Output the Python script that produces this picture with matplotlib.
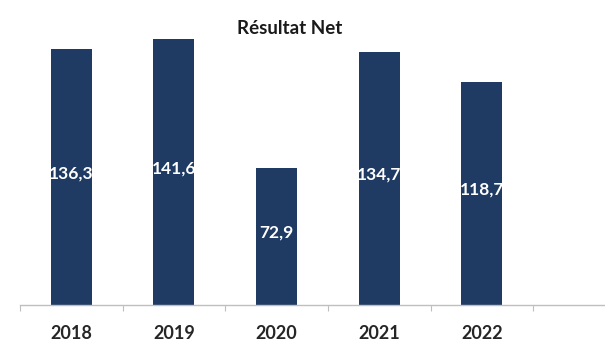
import matplotlib
matplotlib.use("Agg")
import matplotlib.pyplot as plt

years = ["2018", "2019", "2020", "2021", "2022"]
resultat_net = [136.3, 141.6, 72.9, 134.7, 118.7]
title = "Résultat Net"

plt.rcParams["font.family"] = ["Lato", "DejaVu Sans"]

fig = plt.figure(figsize=(6.05, 3.43), dpi=100)
# axes: left at 20px, baseline at 305px from the top
ax = fig.add_axes([20 / 605, (343 - 305) / 343, 1 - 20 / 605, (305 - 10) / 343])

x = list(range(len(years)))
bars = ax.bar(x, resultat_net, width=0.4, color="#1f3b63", zorder=2)

for rect, v in zip(bars, resultat_net):
    ax.text(rect.get_x() + rect.get_width() / 2, v / 2 + 2,
            f"{v:.1f}".replace(".", ","), ha="center", va="center",
            color="white", fontsize=12.5, fontweight="bold", zorder=3)

ax.set_xlim(-0.5, 5.2)
ax.set_ylim(0, 295 / 1.878)

for s in ["left", "right", "top"]:
    ax.spines[s].set_visible(False)
ax.spines["bottom"].set_color("#bfbfbf")
ax.spines["bottom"].set_linewidth(1.0)

ax.set_yticks([])
ax.set_xticks([i - 0.5 for i in range(len(years) + 1)])
ax.set_xticklabels([])
ax.tick_params(axis="x", length=4, color="#bfbfbf", direction="out")

for i, y in enumerate(years):
    ax.text(i, -0.095, y, transform=ax.get_xaxis_transform(), ha="center",
            va="center", fontsize=13, fontweight="bold", color="#262626")

fig.text(290 / 605, 1 - 28 / 343, title, ha="center", va="center",
         fontsize=13.5, fontweight="bold", color="#1a1a1a")

fig.savefig("out.png", dpi=100)
